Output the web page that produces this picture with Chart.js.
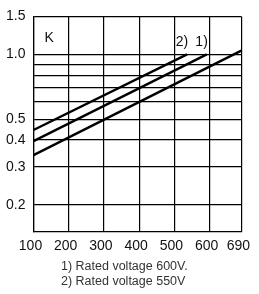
<!DOCTYPE html>
<html>
<head>
<meta charset="utf-8">
<script src="https://cdn.jsdelivr.net/npm/chart.js@4/dist/chart.umd.min.js"></script>
<style>
  html, body { margin: 0; padding: 0; background: #fff; }
  canvas { display: block; }
</style>
</head>
<body>
<canvas id="kChart" width="259" height="294"></canvas>
<script>
// curve end points (voltage, K)
const curve2X = [100, 536];
const curve2K = [0.445, 1.0];
const curve1X = [100, 592];
const curve1K = [0.395, 1.0];
const curve3X = [100, 690];
const curve3K = [0.34, 1.04];

const xTicks = [100, 200, 300, 400, 500, 600, 690];
const yGrid = [0.2, 0.3, 0.4, 0.5, 0.6, 0.7, 0.8, 0.9, 1.0, 1.5];
const yLabels = [0.2, 0.3, 0.4, 0.5, 1.0, 1.5];

const curveNames = ['2)', '1)', ''];
const footnotes = ['1) Rated voltage 600V.', '2) Rated voltage 550V'];

const FONT = '"Liberation Sans", Arial, sans-serif';

function toPoints(xs, ys) {
  return xs.map((x, i) => ({ x: x, y: ys[i] }));
}

// K, curve names and footnotes
const notesPlugin = {
  id: 'notes',
  afterDraw(chart) {
    const ctx = chart.ctx;
    const area = chart.chartArea;
    const xs = chart.scales.x, ys = chart.scales.y;
    ctx.save();
    ctx.fillStyle = '#111';
    ctx.font = '14px ' + FONT;
    ctx.textBaseline = 'middle';
    ctx.textAlign = 'left';
    ctx.fillText('K', area.left + 11, area.top + 22);

    // labels above the ends of curves 2) and 1)
    ctx.textAlign = 'right';
    const ends = [curve2X[curve2X.length - 1], curve1X[curve1X.length - 1]];
    ends.forEach((v, i) => {
      ctx.fillText(curveNames[i], xs.getPixelForValue(v) + 1, ys.getPixelForValue(1.0) - 12);
    });

    ctx.fillStyle = '#333';
    ctx.font = '12.5px ' + FONT;
    ctx.textAlign = 'left';
    footnotes.forEach((t, i) => {
      ctx.fillText(t, 61, area.bottom + 35 + i * 15);
    });
    ctx.restore();
  }
};

new Chart(document.getElementById('kChart'), {
  type: 'line',
  data: {
    datasets: [
      { label: '2)', data: toPoints(curve2X, curve2K) },
      { label: '1)', data: toPoints(curve1X, curve1K) },
      { label: '', data: toPoints(curve3X, curve3K) }
    ].map(ds => Object.assign(ds, {
      borderColor: '#000',
      borderWidth: 2.4,
      pointRadius: 0,
      fill: false,
      tension: 0
    }))
  },
  options: {
    responsive: false,
    animation: false,
    layout: { padding: { left: 0, right: 14, top: 10, bottom: 0 } },
    plugins: {
      legend: { display: false },
      tooltip: { enabled: false }
    },
    scales: {
      x: {
        type: 'linear',
        min: 100,
        max: 690,
        afterBuildTicks: (scale) => { scale.ticks = xTicks.map(v => ({ value: v })); },
        afterFit: (scale) => { scale.height = 62.3; },
        grid: { color: '#000', lineWidth: 1.2, drawTicks: false },
        border: { color: '#000', width: 1.2 },
        ticks: {
          autoSkip: false,
          maxRotation: 0,
          padding: 6,
          labelOffset: -3,
          color: '#111',
          font: { size: 14, family: FONT },
          callback: (v) => String(v)
        }
      },
      y: {
        type: 'logarithmic',
        min: 0.15,
        max: 1.5,
        afterBuildTicks: (scale) => { scale.ticks = yGrid.map(v => ({ value: v })); },
        afterFit: (scale) => { scale.width = 33.5; },
        grid: { color: '#000', lineWidth: 1.2, drawTicks: false },
        border: { color: '#000', width: 1.2 },
        ticks: {
          autoSkip: false,
          padding: 8,
          color: '#111',
          font: { size: 14, family: FONT },
          callback: (v) => yLabels.includes(v) ? v.toFixed(1) : ''
        }
      }
    }
  },
  plugins: [notesPlugin]
});
</script>
</body>
</html>
